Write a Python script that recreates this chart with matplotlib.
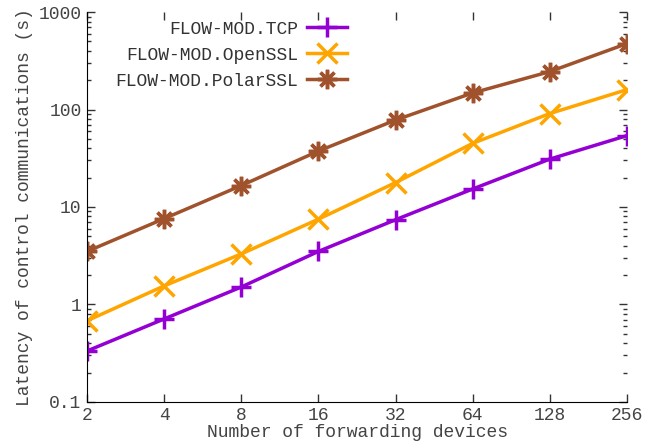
import matplotlib
matplotlib.use("Agg")
import matplotlib.pyplot as plt
from matplotlib.ticker import LogLocator, NullFormatter, FixedLocator, FixedFormatter

plt.rcParams['font.family'] = ['Liberation Mono', 'DejaVu Sans Mono']

# data
devices = [2, 4, 8, 16, 32, 64, 128, 256]
tcp = [0.333, 0.71, 1.51, 3.5, 7.4, 15.3, 31, 54]
openssl = [0.68, 1.55, 3.3, 7.5, 17.8, 45, 91, 160]
polarssl = [3.5, 7.6, 16.6, 37.5, 78, 148, 245, 475]
labels = ["FLOW-MOD.TCP", "FLOW-MOD.OpenSSL", "FLOW-MOD.PolarSSL"]
colors = ["#9400D3", "#FFA500", "#A0522D"]
markers = ["+", "x", (8, 2, 0)]

fig = plt.figure(figsize=(6.6, 4.47), dpi=100)
ax = fig.add_axes([0.132, 0.101, 0.818, 0.872])

for ys, lab, c, m in zip([tcp, openssl, polarssl], labels, colors, markers):
    ax.plot(devices, ys, color=c, lw=2.5, marker=m, ms=14, mew=2.5, label=lab)

ax.set_xscale('log', base=2)
ax.set_yscale('log')
ax.set_xlim(2, 256)
ax.set_ylim(0.1, 1000)
ax.xaxis.set_major_locator(FixedLocator(devices))
ax.xaxis.set_major_formatter(FixedFormatter([str(d) for d in devices]))
ax.xaxis.set_minor_locator(FixedLocator([]))
ax.yaxis.set_major_locator(FixedLocator([0.1, 1, 10, 100, 1000]))
ax.yaxis.set_major_formatter(FixedFormatter(["0.1", "1", "10", "100", "1000"]))
ax.yaxis.set_minor_locator(LogLocator(base=10, subs=range(2, 10)))
ax.yaxis.set_minor_formatter(NullFormatter())

ax.spines['top'].set_visible(False)
ax.spines['right'].set_visible(False)
ax.tick_params(which='both', direction='in', top=True, right=True, labelsize=13, colors='#333333', pad=4)
ax.tick_params(which='major', length=6, width=1)
ax.tick_params(which='minor', length=3, width=1)
ax.tick_params(axis='both', labelcolor='#444444')

ax.set_xlabel("Number of forwarding devices", fontsize=13, color='#444444', labelpad=0)
ax.set_ylabel("Latency of control communications (s)", fontsize=13, color='#444444', labelpad=4)

ax.legend(loc='upper left', bbox_to_anchor=(0.022, 1.02), frameon=False, markerfirst=False,
          fontsize=13, labelcolor='#333333', handlelength=2.2, handletextpad=0.5, labelspacing=0.5)

fig.savefig("out.png", dpi=100)
